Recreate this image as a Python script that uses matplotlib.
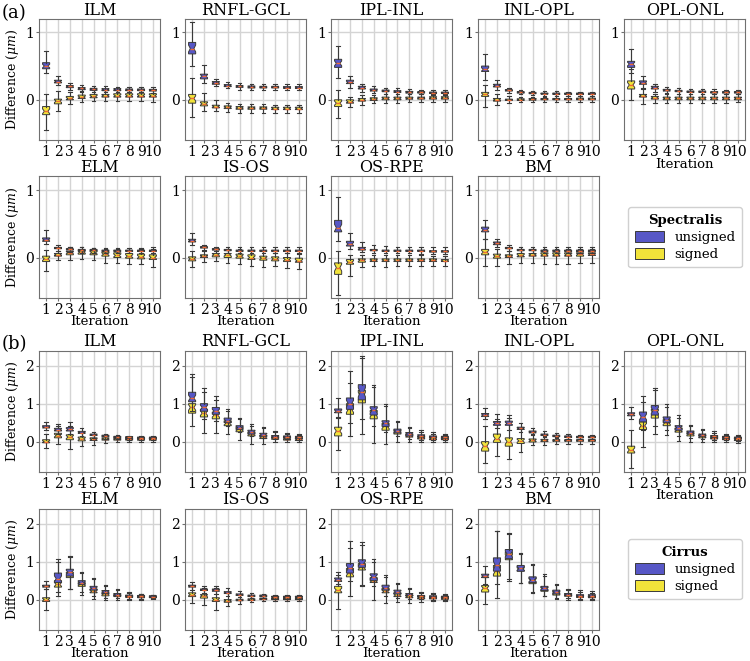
import numpy as np
import matplotlib.pyplot as plt
from matplotlib.patches import Patch

plt.rcParams['font.family'] = ['DejaVu Serif']
plt.rcParams['mathtext.fontset'] = 'dejavuserif'

layers = ['ILM', 'RNFL-GCL', 'IPL-INL', 'INL-OPL', 'OPL-ONL', 'ELM', 'IS-OS', 'OS-RPE', 'BM']
iterations = list(range(1, 11))

# ---- Spectralis, unsigned difference ----
spec_u_med = [
    [0.50, 0.27, 0.20, 0.17, 0.16, 0.15, 0.15, 0.15, 0.15, 0.14],
    [0.76, 0.35, 0.25, 0.21, 0.20, 0.19, 0.19, 0.19, 0.18, 0.18],
    [0.54, 0.26, 0.18, 0.14, 0.13, 0.12, 0.11, 0.11, 0.10, 0.10],
    [0.45, 0.21, 0.14, 0.11, 0.10, 0.09, 0.09, 0.09, 0.09, 0.09],
    [0.53, 0.25, 0.18, 0.14, 0.13, 0.12, 0.12, 0.11, 0.11, 0.11],
    [0.26, 0.14, 0.12, 0.11, 0.11, 0.10, 0.10, 0.10, 0.10, 0.10],
    [0.25, 0.15, 0.12, 0.11, 0.10, 0.10, 0.10, 0.10, 0.10, 0.10],
    [0.44, 0.20, 0.13, 0.11, 0.10, 0.10, 0.10, 0.10, 0.09, 0.09],
    [0.41, 0.21, 0.14, 0.11, 0.11, 0.10, 0.10, 0.10, 0.10, 0.10],
]
spec_u_q1 = [
    [0.46, 0.25, 0.18, 0.15, 0.14, 0.135, 0.135, 0.135, 0.135, 0.13],
    [0.68, 0.31, 0.23, 0.195, 0.185, 0.175, 0.175, 0.175, 0.17, 0.17],
    [0.48, 0.24, 0.16, 0.13, 0.12, 0.11, 0.10, 0.10, 0.095, 0.095],
    [0.42, 0.19, 0.13, 0.10, 0.09, 0.085, 0.08, 0.08, 0.08, 0.08],
    [0.48, 0.23, 0.16, 0.13, 0.12, 0.11, 0.11, 0.10, 0.10, 0.10],
    [0.24, 0.13, 0.11, 0.10, 0.10, 0.09, 0.09, 0.09, 0.09, 0.09],
    [0.23, 0.14, 0.11, 0.10, 0.09, 0.09, 0.09, 0.09, 0.09, 0.09],
    [0.38, 0.17, 0.11, 0.10, 0.09, 0.09, 0.09, 0.09, 0.08, 0.08],
    [0.38, 0.19, 0.13, 0.10, 0.10, 0.09, 0.09, 0.09, 0.09, 0.09],
]
spec_u_q3 = [
    [0.55, 0.29, 0.21, 0.18, 0.17, 0.165, 0.165, 0.16, 0.16, 0.155],
    [0.85, 0.38, 0.27, 0.225, 0.21, 0.205, 0.20, 0.20, 0.195, 0.195],
    [0.60, 0.29, 0.20, 0.16, 0.145, 0.135, 0.125, 0.12, 0.115, 0.115],
    [0.50, 0.23, 0.15, 0.12, 0.11, 0.10, 0.10, 0.10, 0.10, 0.10],
    [0.57, 0.28, 0.20, 0.155, 0.14, 0.13, 0.13, 0.12, 0.12, 0.12],
    [0.29, 0.15, 0.13, 0.12, 0.12, 0.11, 0.11, 0.11, 0.11, 0.11],
    [0.27, 0.16, 0.13, 0.12, 0.11, 0.11, 0.11, 0.11, 0.11, 0.11],
    [0.55, 0.24, 0.15, 0.12, 0.11, 0.11, 0.11, 0.11, 0.10, 0.10],
    [0.45, 0.23, 0.15, 0.12, 0.12, 0.11, 0.11, 0.11, 0.11, 0.11],
]
spec_u_lo = [
    [0.39, 0.22, 0.15, 0.12, 0.11, 0.11, 0.11, 0.11, 0.11, 0.10],
    [0.50, 0.25, 0.20, 0.17, 0.15, 0.15, 0.14, 0.14, 0.14, 0.14],
    [0.32, 0.18, 0.12, 0.10, 0.09, 0.08, 0.08, 0.08, 0.07, 0.07],
    [0.30, 0.15, 0.10, 0.08, 0.07, 0.06, 0.06, 0.06, 0.06, 0.06],
    [0.40, 0.16, 0.12, 0.10, 0.09, 0.08, 0.08, 0.08, 0.08, 0.08],
    [0.20, 0.10, 0.08, 0.07, 0.07, 0.07, 0.07, 0.07, 0.07, 0.06],
    [0.18, 0.11, 0.09, 0.07, 0.06, 0.06, 0.06, 0.06, 0.06, 0.06],
    [0.24, 0.12, 0.08, 0.07, 0.06, 0.06, 0.06, 0.05, 0.05, 0.05],
    [0.28, 0.15, 0.10, 0.07, 0.07, 0.06, 0.06, 0.06, 0.06, 0.06],
]
spec_u_hi = [
    [0.73, 0.36, 0.25, 0.22, 0.20, 0.20, 0.19, 0.19, 0.19, 0.19],
    [1.15, 0.52, 0.31, 0.27, 0.25, 0.24, 0.24, 0.24, 0.23, 0.23],
    [0.80, 0.36, 0.24, 0.20, 0.18, 0.17, 0.16, 0.15, 0.15, 0.15],
    [0.68, 0.30, 0.18, 0.15, 0.13, 0.13, 0.13, 0.12, 0.12, 0.12],
    [0.75, 0.36, 0.24, 0.19, 0.17, 0.16, 0.16, 0.16, 0.15, 0.15],
    [0.41, 0.19, 0.15, 0.15, 0.14, 0.14, 0.14, 0.14, 0.14, 0.15],
    [0.36, 0.19, 0.15, 0.15, 0.15, 0.15, 0.15, 0.15, 0.15, 0.15],
    [0.90, 0.37, 0.23, 0.18, 0.17, 0.16, 0.16, 0.16, 0.15, 0.15],
    [0.55, 0.28, 0.19, 0.16, 0.16, 0.16, 0.15, 0.15, 0.15, 0.15],
]

# ---- Spectralis, signed difference ----
spec_s_med = [
    [-0.17, -0.02, 0.02, 0.04, 0.05, 0.06, 0.06, 0.06, 0.06, 0.06],
    [0.02, -0.06, -0.10, -0.11, -0.12, -0.12, -0.12, -0.13, -0.13, -0.13],
    [-0.05, -0.03, 0.00, 0.01, 0.02, 0.02, 0.02, 0.03, 0.03, 0.03],
    [0.08, 0.00, 0.00, 0.00, 0.005, 0.01, 0.01, 0.01, 0.01, 0.01],
    [0.22, 0.06, 0.03, 0.02, 0.02, 0.02, 0.02, 0.02, 0.02, 0.02],
    [-0.02, 0.04, 0.07, 0.08, 0.07, 0.05, 0.03, 0.02, 0.01, 0.00],
    [-0.02, 0.02, 0.04, 0.04, 0.02, 0.00, -0.01, -0.02, -0.03, -0.05],
    [-0.15, -0.07, -0.04, -0.04, -0.04, -0.04, -0.04, -0.04, -0.04, -0.05],
    [0.08, 0.02, 0.02, 0.03, 0.04, 0.04, 0.04, 0.04, 0.05, 0.05],
]
spec_s_q1 = [
    [-0.22, -0.06, 0.00, 0.02, 0.03, 0.04, 0.04, 0.04, 0.04, 0.04],
    [-0.05, -0.09, -0.12, -0.13, -0.14, -0.14, -0.14, -0.145, -0.145, -0.145],
    [-0.10, -0.05, -0.02, -0.01, 0.00, 0.00, 0.01, 0.01, 0.01, 0.01],
    [0.05, -0.02, -0.01, -0.01, -0.005, 0.00, 0.00, 0.00, 0.00, 0.00],
    [0.16, 0.04, 0.01, 0.00, 0.00, 0.00, 0.00, 0.00, 0.00, 0.00],
    [-0.06, 0.02, 0.04, 0.05, 0.04, 0.02, 0.00, -0.01, -0.02, -0.03],
    [-0.05, 0.00, 0.01, 0.00, -0.01, -0.03, -0.04, -0.05, -0.06, -0.07],
    [-0.25, -0.10, -0.07, -0.06, -0.06, -0.06, -0.06, -0.06, -0.06, -0.06],
    [0.04, -0.01, 0.00, 0.01, 0.02, 0.02, 0.02, 0.02, 0.02, 0.03],
]
spec_s_q3 = [
    [-0.10, 0.01, 0.05, 0.07, 0.08, 0.08, 0.09, 0.09, 0.09, 0.09],
    [0.08, -0.03, -0.08, -0.09, -0.10, -0.105, -0.105, -0.11, -0.11, -0.11],
    [0.00, 0.00, 0.02, 0.03, 0.04, 0.04, 0.04, 0.04, 0.045, 0.045],
    [0.11, 0.02, 0.01, 0.015, 0.02, 0.02, 0.02, 0.02, 0.025, 0.025],
    [0.28, 0.08, 0.05, 0.04, 0.04, 0.04, 0.04, 0.04, 0.04, 0.04],
    [0.02, 0.06, 0.09, 0.10, 0.10, 0.08, 0.07, 0.06, 0.05, 0.04],
    [0.01, 0.04, 0.06, 0.06, 0.05, 0.04, 0.02, 0.01, 0.00, -0.01],
    [-0.08, -0.03, -0.02, -0.02, -0.02, -0.02, -0.02, -0.02, -0.02, -0.03],
    [0.12, 0.05, 0.04, 0.06, 0.06, 0.07, 0.07, 0.07, 0.07, 0.07],
]
spec_s_lo = [
    [-0.45, -0.17, -0.06, -0.03, -0.02, -0.02, -0.02, -0.02, -0.02, -0.03],
    [-0.25, -0.17, -0.17, -0.18, -0.19, -0.19, -0.19, -0.19, -0.19, -0.19],
    [-0.27, -0.10, -0.07, -0.05, -0.04, -0.04, -0.03, -0.03, -0.03, -0.03],
    [-0.10, -0.08, -0.04, -0.03, -0.03, -0.03, -0.03, -0.03, -0.03, -0.03],
    [0.00, -0.06, -0.05, -0.04, -0.04, -0.04, -0.04, -0.04, -0.04, -0.03],
    [-0.20, -0.03, -0.03, -0.02, -0.04, -0.08, -0.08, -0.09, -0.10, -0.14],
    [-0.14, -0.07, -0.05, -0.08, -0.09, -0.12, -0.14, -0.13, -0.16, -0.17],
    [-0.55, -0.28, -0.14, -0.13, -0.14, -0.13, -0.13, -0.12, -0.12, -0.12],
    [-0.12, -0.12, -0.10, -0.08, -0.08, -0.10, -0.09, -0.09, -0.08, -0.08],
]
spec_s_hi = [
    [0.08, 0.13, 0.12, 0.13, 0.14, 0.15, 0.15, 0.15, 0.15, 0.15],
    [0.33, 0.10, 0.00, -0.04, -0.06, -0.06, -0.06, -0.07, -0.07, -0.07],
    [0.15, 0.04, 0.07, 0.07, 0.08, 0.08, 0.08, 0.08, 0.09, 0.09],
    [0.22, 0.08, 0.05, 0.04, 0.04, 0.04, 0.05, 0.05, 0.05, 0.05],
    [0.45, 0.17, 0.09, 0.08, 0.08, 0.08, 0.08, 0.08, 0.08, 0.08],
    [0.11, 0.10, 0.15, 0.15, 0.14, 0.13, 0.12, 0.11, 0.12, 0.12],
    [0.10, 0.10, 0.12, 0.13, 0.12, 0.11, 0.10, 0.07, 0.07, 0.05],
    [0.10, 0.04, 0.04, 0.03, 0.03, 0.03, 0.03, 0.03, 0.02, 0.02],
    [0.28, 0.13, 0.10, 0.12, 0.12, 0.12, 0.12, 0.12, 0.12, 0.13],
]

# ---- Cirrus, unsigned difference ----
cirr_u_med = [
    [0.38, 0.31, 0.32, 0.24, 0.18, 0.15, 0.12, 0.11, 0.10, 0.10],
    [1.15, 0.90, 0.80, 0.55, 0.37, 0.25, 0.18, 0.13, 0.12, 0.12],
    [0.80, 1.00, 1.30, 0.82, 0.48, 0.28, 0.20, 0.15, 0.12, 0.12],
    [0.70, 0.48, 0.48, 0.35, 0.25, 0.18, 0.15, 0.13, 0.12, 0.12],
    [0.72, 0.65, 0.82, 0.58, 0.37, 0.24, 0.18, 0.14, 0.12, 0.10],
    [0.35, 0.55, 0.72, 0.45, 0.30, 0.20, 0.13, 0.10, 0.09, 0.08],
    [0.35, 0.26, 0.25, 0.18, 0.13, 0.10, 0.10, 0.07, 0.07, 0.07],
    [0.52, 0.82, 0.95, 0.60, 0.30, 0.20, 0.13, 0.09, 0.08, 0.07],
    [0.62, 0.90, 1.20, 0.82, 0.52, 0.30, 0.20, 0.13, 0.10, 0.10],
]
cirr_u_q1 = [
    [0.36, 0.28, 0.28, 0.22, 0.16, 0.13, 0.10, 0.09, 0.085, 0.085],
    [1.05, 0.80, 0.72, 0.50, 0.32, 0.20, 0.14, 0.10, 0.09, 0.09],
    [0.76, 0.85, 1.10, 0.70, 0.40, 0.23, 0.15, 0.12, 0.10, 0.09],
    [0.66, 0.43, 0.43, 0.32, 0.23, 0.16, 0.13, 0.11, 0.10, 0.10],
    [0.68, 0.52, 0.70, 0.50, 0.30, 0.20, 0.14, 0.11, 0.09, 0.08],
    [0.33, 0.45, 0.62, 0.40, 0.25, 0.16, 0.10, 0.08, 0.07, 0.06],
    [0.33, 0.24, 0.22, 0.16, 0.11, 0.08, 0.08, 0.06, 0.06, 0.06],
    [0.48, 0.70, 0.85, 0.50, 0.25, 0.15, 0.10, 0.07, 0.06, 0.05],
    [0.58, 0.75, 1.08, 0.75, 0.45, 0.24, 0.15, 0.10, 0.08, 0.07],
]
cirr_u_q3 = [
    [0.42, 0.35, 0.37, 0.27, 0.20, 0.17, 0.14, 0.13, 0.12, 0.12],
    [1.30, 1.00, 0.90, 0.62, 0.42, 0.30, 0.22, 0.16, 0.15, 0.14],
    [0.86, 1.15, 1.50, 0.92, 0.55, 0.33, 0.24, 0.18, 0.15, 0.14],
    [0.74, 0.53, 0.54, 0.38, 0.28, 0.20, 0.17, 0.15, 0.14, 0.14],
    [0.76, 0.78, 0.95, 0.65, 0.42, 0.28, 0.20, 0.16, 0.14, 0.12],
    [0.38, 0.70, 0.80, 0.50, 0.35, 0.24, 0.16, 0.12, 0.11, 0.10],
    [0.38, 0.28, 0.28, 0.21, 0.15, 0.12, 0.12, 0.09, 0.09, 0.09],
    [0.57, 0.95, 1.05, 0.68, 0.38, 0.25, 0.16, 0.11, 0.10, 0.09],
    [0.67, 1.10, 1.32, 0.90, 0.60, 0.35, 0.25, 0.16, 0.13, 0.13],
]
cirr_u_lo = [
    [0.30, 0.20, 0.20, 0.15, 0.10, 0.08, 0.06, 0.05, 0.05, 0.05],
    [0.80, 0.60, 0.55, 0.40, 0.25, 0.15, 0.10, 0.07, 0.06, 0.05],
    [0.62, 0.50, 0.60, 0.40, 0.25, 0.15, 0.08, 0.05, 0.04, 0.04],
    [0.60, 0.35, 0.30, 0.25, 0.18, 0.12, 0.10, 0.08, 0.08, 0.08],
    [0.60, 0.30, 0.40, 0.30, 0.15, 0.10, 0.06, 0.05, 0.04, 0.02],
    [0.28, 0.20, 0.28, 0.20, 0.10, 0.05, 0.03, 0.02, 0.02, 0.03],
    [0.25, 0.18, 0.15, 0.10, 0.06, 0.04, 0.04, 0.02, 0.02, 0.02],
    [0.40, 0.50, 0.38, 0.35, 0.10, 0.05, 0.02, 0.02, 0.00, 0.00],
    [0.42, 0.40, 0.50, 0.45, 0.20, 0.10, 0.05, 0.03, 0.02, 0.02],
]
cirr_u_hi = [
    [0.52, 0.46, 0.52, 0.35, 0.26, 0.20, 0.18, 0.16, 0.15, 0.15],
    [1.78, 1.42, 1.20, 0.85, 0.62, 0.47, 0.38, 0.28, 0.22, 0.20],
    [1.15, 1.85, 2.25, 1.48, 0.98, 0.55, 0.38, 0.30, 0.25, 0.20],
    [0.88, 0.73, 0.70, 0.50, 0.35, 0.28, 0.22, 0.20, 0.18, 0.18],
    [0.90, 1.20, 1.42, 0.98, 0.70, 0.45, 0.32, 0.27, 0.20, 0.18],
    [0.48, 1.08, 1.15, 0.72, 0.57, 0.38, 0.27, 0.20, 0.16, 0.13],
    [0.47, 0.36, 0.36, 0.30, 0.24, 0.17, 0.16, 0.12, 0.12, 0.12],
    [0.73, 1.55, 1.52, 1.07, 0.65, 0.45, 0.30, 0.20, 0.17, 0.15],
    [0.88, 1.80, 1.75, 1.23, 0.95, 0.67, 0.40, 0.28, 0.25, 0.22],
]

# ---- Cirrus, signed difference ----
cirr_s_med = [
    [0.00, 0.16, 0.12, 0.07, 0.06, 0.07, 0.07, 0.07, 0.06, 0.06],
    [0.90, 0.75, 0.70, 0.48, 0.32, 0.20, 0.12, 0.10, 0.08, 0.06],
    [0.28, 0.85, 1.20, 0.72, 0.40, 0.25, 0.15, 0.10, 0.08, 0.07],
    [-0.12, 0.08, 0.00, 0.02, 0.03, 0.03, 0.03, 0.03, 0.03, 0.03],
    [-0.22, 0.42, 0.75, 0.50, 0.30, 0.20, 0.14, 0.10, 0.08, 0.06],
    [0.00, 0.40, 0.65, 0.40, 0.22, 0.15, 0.10, 0.08, 0.07, 0.07],
    [0.13, 0.10, 0.00, -0.03, -0.01, 0.00, 0.02, 0.02, 0.02, 0.02],
    [0.25, 0.70, 0.85, 0.50, 0.22, 0.12, 0.08, 0.05, 0.04, 0.03],
    [0.30, 0.75, 1.12, 0.80, 0.50, 0.28, 0.17, 0.12, 0.08, 0.07],
]
cirr_s_q1 = [
    [-0.03, 0.10, 0.05, 0.02, 0.03, 0.04, 0.04, 0.04, 0.04, 0.04],
    [0.75, 0.65, 0.60, 0.42, 0.26, 0.15, 0.08, 0.06, 0.04, 0.03],
    [0.15, 0.72, 1.02, 0.60, 0.30, 0.20, 0.12, 0.07, 0.05, 0.05],
    [-0.25, -0.02, -0.12, -0.05, -0.01, 0.00, 0.01, 0.01, 0.01, 0.01],
    [-0.30, 0.32, 0.62, 0.42, 0.25, 0.15, 0.10, 0.07, 0.05, 0.03],
    [-0.05, 0.33, 0.58, 0.35, 0.18, 0.10, 0.08, 0.06, 0.05, 0.05],
    [0.08, 0.04, -0.05, -0.07, -0.03, -0.02, 0.00, 0.00, 0.00, 0.00],
    [0.18, 0.60, 0.78, 0.45, 0.18, 0.08, 0.05, 0.02, 0.02, 0.01],
    [0.20, 0.62, 1.05, 0.75, 0.42, 0.22, 0.12, 0.09, 0.06, 0.05],
]
cirr_s_q3 = [
    [0.05, 0.22, 0.18, 0.12, 0.10, 0.10, 0.09, 0.09, 0.09, 0.09],
    [1.00, 0.85, 0.78, 0.55, 0.38, 0.25, 0.16, 0.13, 0.11, 0.09],
    [0.38, 1.00, 1.35, 0.82, 0.48, 0.30, 0.20, 0.13, 0.11, 0.10],
    [0.00, 0.20, 0.10, 0.08, 0.07, 0.06, 0.05, 0.05, 0.05, 0.05],
    [-0.12, 0.52, 0.85, 0.58, 0.36, 0.24, 0.18, 0.13, 0.10, 0.08],
    [0.05, 0.50, 0.72, 0.45, 0.28, 0.18, 0.13, 0.10, 0.09, 0.09],
    [0.18, 0.13, 0.05, 0.00, 0.01, 0.02, 0.04, 0.04, 0.04, 0.04],
    [0.35, 0.82, 0.95, 0.58, 0.30, 0.18, 0.12, 0.08, 0.06, 0.05],
    [0.37, 0.90, 1.25, 0.87, 0.58, 0.33, 0.22, 0.15, 0.11, 0.10],
]
cirr_s_lo = [
    [-0.16, -0.05, -0.20, -0.12, -0.08, -0.03, -0.02, -0.02, -0.02, -0.02],
    [0.40, 0.22, 0.22, 0.20, 0.05, -0.05, -0.07, -0.02, -0.02, -0.02],
    [-0.22, 0.15, 0.20, -0.03, -0.07, 0.00, -0.02, 0.00, 0.00, 0.00],
    [-0.57, -0.38, -0.47, -0.28, -0.10, -0.08, -0.05, -0.05, -0.05, -0.05],
    [-0.70, -0.15, 0.20, 0.18, 0.02, 0.00, -0.02, -0.02, -0.02, -0.04],
    [-0.28, 0.10, 0.27, 0.12, 0.02, 0.00, 0.00, 0.00, 0.00, 0.02],
    [-0.08, -0.15, -0.28, -0.17, -0.12, -0.05, -0.03, -0.03, -0.03, -0.03],
    [-0.25, 0.10, 0.37, 0.00, -0.08, -0.06, -0.10, -0.05, -0.04, -0.03],
    [-0.12, 0.05, 0.55, 0.45, 0.18, 0.10, 0.02, 0.00, 0.00, 0.00],
]
cirr_s_hi = [
    [0.20, 0.40, 0.40, 0.25, 0.18, 0.16, 0.13, 0.13, 0.13, 0.13],
    [1.70, 1.30, 1.10, 0.80, 0.60, 0.42, 0.35, 0.25, 0.20, 0.18],
    [0.65, 1.55, 2.20, 1.45, 0.95, 0.52, 0.35, 0.25, 0.20, 0.18],
    [0.40, 0.60, 0.62, 0.35, 0.20, 0.15, 0.12, 0.12, 0.12, 0.12],
    [0.30, 1.05, 1.35, 0.92, 0.62, 0.42, 0.30, 0.22, 0.18, 0.15],
    [0.28, 1.00, 1.12, 0.70, 0.55, 0.35, 0.25, 0.18, 0.15, 0.12],
    [0.38, 0.30, 0.30, 0.18, 0.12, 0.10, 0.10, 0.10, 0.10, 0.10],
    [0.65, 1.35, 1.45, 1.00, 0.60, 0.42, 0.28, 0.17, 0.14, 0.12],
    [0.60, 1.80, 1.72, 1.20, 0.90, 0.62, 0.38, 0.25, 0.20, 0.18],
]

blue = '#5757c6'
yellow = '#f1e33a'
edge = '#3a3a3a'
median_col = '#f06a35'


def box_stats(med, q1, q3, lo, hi):
    stats = []
    for m, a, b, l, h in zip(med, q1, q3, lo, hi):
        n = 0.3 * (b - a)
        stats.append(dict(med=m, q1=a, q3=b, whislo=l, whishi=h,
                          cilo=m - n, cihi=m + n, fliers=[]))
    return stats


def draw_boxes(ax, stats, color, z):
    ax.bxp(stats, positions=iterations, widths=0.6, shownotches=True,
           patch_artist=True, showfliers=False, manage_ticks=False,
           boxprops=dict(facecolor=color, edgecolor=edge, linewidth=0.7),
           medianprops=dict(color=median_col, linewidth=1.0),
           whiskerprops=dict(color=edge, linewidth=0.8),
           capprops=dict(color=edge, linewidth=0.8), zorder=z)


fig = plt.figure(figsize=(7.5, 6.61), dpi=100)
W, H = 750.0, 661.0
col_left = [39, 185, 331, 478, 624]
ax_w, ax_h = 121, 121.5
groups = [
    dict(tops=[18.8, 176.5], ylim=(-0.6, 1.2), yticks=[0, 1], name='Spectralis', tag='(a)',
         u=(spec_u_med, spec_u_q1, spec_u_q3, spec_u_lo, spec_u_hi),
         s=(spec_s_med, spec_s_q1, spec_s_q3, spec_s_lo, spec_s_hi)),
    dict(tops=[350.5, 508.5], ylim=(-0.8, 2.4), yticks=[0, 1, 2], name='Cirrus', tag='(b)',
         u=(cirr_u_med, cirr_u_q1, cirr_u_q3, cirr_u_lo, cirr_u_hi),
         s=(cirr_s_med, cirr_s_q1, cirr_s_q3, cirr_s_lo, cirr_s_hi)),
]

for g in groups:
    for k, layer in enumerate(layers):
        r, c = divmod(k, 5)
        top = g['tops'][r]
        ax = fig.add_axes([col_left[c] / W, 1 - (top + ax_h) / H, ax_w / W, ax_h / H])
        s_stats = box_stats(*[arr[k] for arr in g['s']])
        u_stats = box_stats(*[arr[k] for arr in g['u']])
        draw_boxes(ax, s_stats, yellow, 3)
        draw_boxes(ax, u_stats, blue, 4)
        ax.set_xlim(0.4, 10.6)
        ax.set_ylim(*g['ylim'])
        ax.set_xticks(iterations)
        ax.set_xticklabels([str(i) for i in iterations])
        ax.set_yticks(g['yticks'])
        ax.grid(True, color='#d4d4d4', linewidth=1.0)
        ax.set_axisbelow(True)
        for sp in ax.spines.values():
            sp.set_color('#707070')
        ax.tick_params(labelsize=10, color='#707070', length=2, pad=1.5)
        ax.set_title(layer, fontsize=11.5, pad=3)
        if c == 0:
            ax.set_ylabel(r'Difference ($\mu m$)', fontsize=9, labelpad=3)
        if r == 1 or c == 4:
            ax.set_xlabel('Iteration', fontsize=9.5, labelpad=-1)
    # legend in the empty slot
    yc = g['tops'][1] + ax_h / 2
    handles = [Patch(facecolor=blue, edgecolor=edge, linewidth=0.7, label='unsigned'),
               Patch(facecolor=yellow, edgecolor=edge, linewidth=0.7, label='signed')]
    fig.legend(handles=handles, title=g['name'], loc='center',
               bbox_to_anchor=(685 / W, 1 - yc / H), fontsize=9.5,
               title_fontproperties=dict(weight='bold', size=9.5),
               handlelength=2.2, handleheight=0.9, borderpad=0.5,
               labelspacing=0.3, handletextpad=0.8, framealpha=1,
               edgecolor='#d0d0d0')
    fig.text(2 / W, 1 - (g['tops'][0] - 6) / H, g['tag'], fontsize=13, va='center', ha='left')

fig.savefig('out.png', dpi=100)
